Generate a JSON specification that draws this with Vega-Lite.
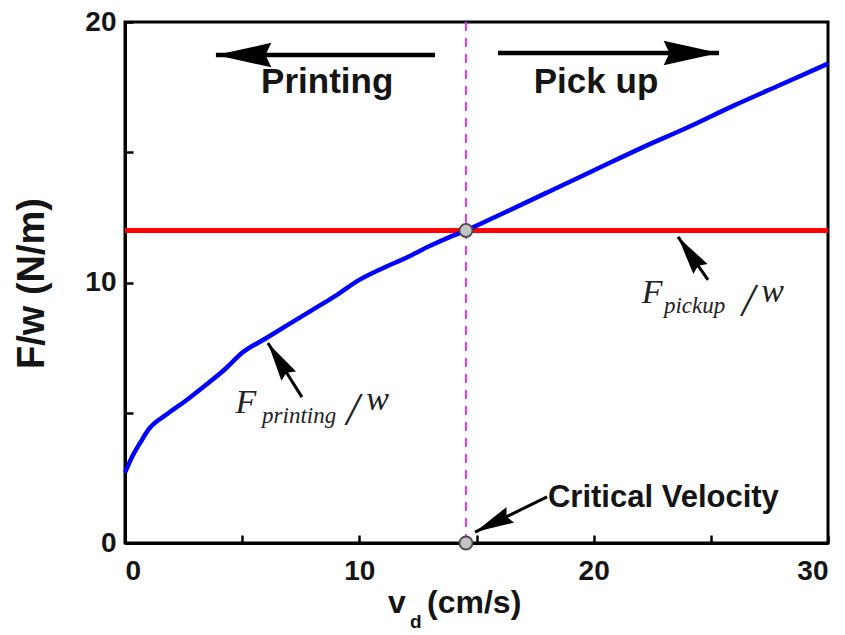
{
  "$schema": "https://vega.github.io/schema/vega-lite/v6.json",
  "width": 703,
  "height": 521,
  "autosize": {"type": "none"},
  "padding": {"left": 125, "top": 22, "right": 17, "bottom": 92},
  "background": "white",
  "config": {
    "view": {"stroke": "black", "strokeWidth": 3},
    "axis": {
      "grid": false,
      "domainColor": "black",
      "domainWidth": 3,
      "tickColor": "black",
      "tickWidth": 2.5,
      "tickSize": -8,
      "labelFont": "Liberation Sans",
      "labelFontWeight": "bold",
      "labelFontSize": 28,
      "labelColor": "#151515"
    }
  },
  "datasets": {
    "curve": [
      {"vd": 0, "fw": 2.7},
      {"vd": 0.3, "fw": 3.3},
      {"vd": 0.65, "fw": 3.85},
      {"vd": 1.0, "fw": 4.35},
      {"vd": 1.8, "fw": 4.95},
      {"vd": 2.65, "fw": 5.5},
      {"vd": 3.5, "fw": 6.1},
      {"vd": 4.3, "fw": 6.7},
      {"vd": 5.0, "fw": 7.3},
      {"vd": 6.0, "fw": 7.85},
      {"vd": 7.0, "fw": 8.4},
      {"vd": 8.0, "fw": 8.95},
      {"vd": 9.0, "fw": 9.5},
      {"vd": 10.0, "fw": 10.1},
      {"vd": 11.0, "fw": 10.55},
      {"vd": 12.0, "fw": 10.95},
      {"vd": 13.0, "fw": 11.4},
      {"vd": 14.0, "fw": 11.8},
      {"vd": 14.55, "fw": 12.0},
      {"vd": 16, "fw": 12.6},
      {"vd": 18, "fw": 13.45},
      {"vd": 20, "fw": 14.3},
      {"vd": 22, "fw": 15.15},
      {"vd": 24, "fw": 15.95},
      {"vd": 26, "fw": 16.8},
      {"vd": 28, "fw": 17.6},
      {"vd": 30, "fw": 18.4}
    ],
    "arrows": [
      {"arrow": "printing", "x0": 13.23, "y0": 18.73, "x1": 3.88, "y1": 18.73, "head": "large"},
      {"arrow": "pickup", "x0": 15.92, "y0": 18.81, "x1": 25.35, "y1": 18.81, "head": "large"},
      {"arrow": "F_printing", "x0": 7.55, "y0": 5.6, "x1": 6.1, "y1": 7.68, "head": "small"},
      {"arrow": "F_pickup", "x0": 24.88, "y0": 10.1, "x1": 23.6, "y1": 11.75, "head": "small"},
      {"arrow": "critical", "x0": 18.01, "y0": 1.77, "x1": 14.94, "y1": 0.42, "head": "small"}
    ],
    "critical": [
      {"vd": 14.55, "fw": 12},
      {"vd": 14.55, "fw": 0}
    ]
  },
  "layer": [
    {
      "data": {"values": [{"vc": 14.55}]},
      "mark": {"type": "rule", "color": "#ee33ee", "strokeWidth": 2, "strokeDash": [9, 7]},
      "encoding": {
        "x": {
          "field": "vc",
          "type": "quantitative",
          "scale": {"domain": [0, 30], "nice": false, "zero": false},
          "axis": {
            "title": null,
            "values": [0, 5, 10, 15, 20, 25, 30],
            "labelExpr": "datum.value % 10 === 0 ? datum.label : ''",
            "labelPadding": 22,
            "labelBaseline": "top"
          }
        },
        "y": {
          "datum": 0,
          "type": "quantitative",
          "scale": {"domain": [0, 20], "nice": false, "zero": false},
          "axis": {
            "title": "F/w (N/m)",
            "values": [0, 5, 10, 15, 20],
            "labelExpr": "datum.value % 10 === 0 ? datum.label : ''",
            "labelPadding": 17,
            "titleFont": "Liberation Sans",
            "titleFontWeight": "bold",
            "titleFontSize": 38,
            "titleColor": "#151515",
            "titleAngle": -90,
            "titleAlign": "center",
            "titleBaseline": "alphabetic",
            "titleX": -82,
            "titleY": 261
          }
        },
        "y2": {"datum": 20}
      }
    },
    {
      "data": {"values": [{"fpick": 12}]},
      "mark": {"type": "rule", "color": "#ff0000", "strokeWidth": 5},
      "encoding": {"y": {"field": "fpick", "type": "quantitative"}}
    },
    {
      "data": {"name": "curve"},
      "mark": {"type": "line", "color": "#0000ff", "strokeWidth": 4.5, "interpolate": "monotone"},
      "encoding": {
        "x": {"field": "vd", "type": "quantitative"},
        "y": {"field": "fw", "type": "quantitative"}
      }
    },
    {
      "data": {"name": "arrows"},
      "mark": {"type": "rule", "color": "black"},
      "encoding": {
        "x": {"field": "x0", "type": "quantitative"},
        "y": {"field": "y0", "type": "quantitative"},
        "x2": {"field": "x1"},
        "y2": {"field": "y1"},
        "strokeWidth": {
          "field": "head",
          "type": "nominal",
          "scale": {"domain": ["large", "small"], "range": [4.5, 3]},
          "legend": null
        }
      }
    },
    {
      "data": {"name": "arrows"},
      "transform": [
        {"calculate": "atan2((datum.x1 - datum.x0) * 703 / 30, (datum.y1 - datum.y0) * 521 / 20) * 180 / PI", "as": "heading"}
      ],
      "mark": {
        "type": "point",
        "shape": "M0,0L0.42,1.9L0,1.7L-0.42,1.9Z",
        "filled": true,
        "color": "black",
        "opacity": 1
      },
      "encoding": {
        "x": {"field": "x1", "type": "quantitative"},
        "y": {"field": "y1", "type": "quantitative"},
        "angle": {"field": "heading", "type": "quantitative", "scale": null},
        "size": {
          "field": "head",
          "type": "nominal",
          "scale": {"domain": ["large", "small"], "range": [3400, 1700]},
          "legend": null
        }
      }
    },
    {
      "data": {"name": "critical"},
      "mark": {"type": "point", "shape": "circle", "filled": true, "fill": "#c4c4c4", "stroke": "#4a4a4a", "strokeWidth": 1.8, "size": 170, "opacity": 1},
      "encoding": {
        "x": {"field": "vd", "type": "quantitative"},
        "y": {"field": "fw", "type": "quantitative"}
      }
    },
    {
      "data": {"values": [
        {"label": "Printing", "x": 8.63, "y": 17.27},
        {"label": "Pick up", "x": 20.1, "y": 17.27}
      ]},
      "mark": {"type": "text", "font": "Liberation Sans", "fontWeight": "bold", "fontSize": 35, "align": "center", "baseline": "alphabetic", "color": "#151515"},
      "encoding": {
        "x": {"field": "x", "type": "quantitative"},
        "y": {"field": "y", "type": "quantitative"},
        "text": {"field": "label"}
      }
    },
    {
      "data": {"values": [{"label": "Critical Velocity", "x": 18.05, "y": 1.38}]},
      "mark": {"type": "text", "font": "Liberation Sans", "fontWeight": "bold", "fontSize": 31, "align": "left", "baseline": "alphabetic", "color": "#151515"},
      "encoding": {
        "x": {"field": "x", "type": "quantitative"},
        "y": {"field": "y", "type": "quantitative"},
        "text": {"field": "label"}
      }
    },
    {
      "data": {"values": [
        {"label": "F", "x": 4.72, "y": 5.0},
        {"label": "w", "x": 10.3, "y": 5.1},
        {"label": "F", "x": 22.05, "y": 9.21},
        {"label": "w", "x": 27.15, "y": 9.25}
      ]},
      "mark": {"type": "text", "font": "Liberation Serif", "fontStyle": "italic", "fontSize": 34, "align": "left", "baseline": "alphabetic", "color": "#222222"},
      "encoding": {
        "x": {"field": "x", "type": "quantitative"},
        "y": {"field": "y", "type": "quantitative"},
        "text": {"field": "label"}
      }
    },
    {
      "data": {"values": [
        {"label": "printing", "x": 5.85, "y": 4.62},
        {"label": "pickup", "x": 23.0, "y": 8.83}
      ]},
      "mark": {"type": "text", "font": "Liberation Serif", "fontStyle": "italic", "fontSize": 23, "align": "left", "baseline": "alphabetic", "color": "#222222"},
      "encoding": {
        "x": {"field": "x", "type": "quantitative"},
        "y": {"field": "y", "type": "quantitative"},
        "text": {"field": "label"}
      }
    },
    {
      "data": {"values": [
        {"label": "/", "x": 9.72, "y": 4.53},
        {"label": "/", "x": 26.6, "y": 8.71}
      ]},
      "mark": {"type": "text", "font": "Liberation Serif", "fontStyle": "italic", "fontSize": 46, "align": "center", "baseline": "alphabetic", "color": "#222222"},
      "encoding": {
        "x": {"field": "x", "type": "quantitative"},
        "y": {"field": "y", "type": "quantitative"},
        "text": {"field": "label"}
      }
    },
    {
      "data": {"values": [
        {"label": "v", "x": 11.22, "y": -2.69},
        {"label": "(cm/s)", "x": 12.89, "y": -2.69}
      ]},
      "mark": {"type": "text", "font": "Liberation Sans", "fontWeight": "bold", "fontSize": 32, "align": "left", "baseline": "alphabetic", "color": "#151515"},
      "encoding": {
        "x": {"field": "x", "type": "quantitative"},
        "y": {"field": "y", "type": "quantitative"},
        "text": {"field": "label"}
      }
    },
    {
      "data": {"values": [{"label": "d", "x": 12.16, "y": -3.26}]},
      "mark": {"type": "text", "font": "Liberation Sans", "fontWeight": "bold", "fontSize": 19, "align": "left", "baseline": "alphabetic", "color": "#151515"},
      "encoding": {
        "x": {"field": "x", "type": "quantitative"},
        "y": {"field": "y", "type": "quantitative"},
        "text": {"field": "label"}
      }
    }
  ]
}
